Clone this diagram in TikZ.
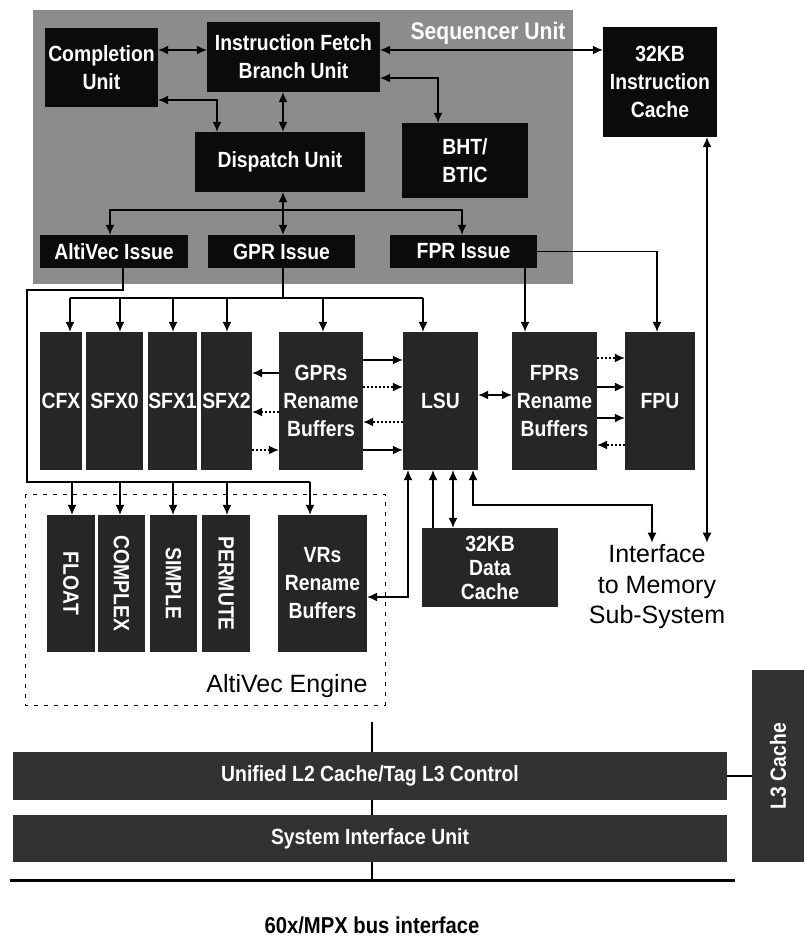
\documentclass[tikz,border=0pt]{standalone}
\usepackage{fontspec}
\setmainfont{Liberation Sans}
\newfontfamily\condfont[FakeStretch=0.88]{Liberation Sans}
\usepackage{graphicx}
\usepackage{tikz}
\usetikzlibrary{arrows.meta,positioning}
\definecolor{ppcSeq}{HTML}{8C8C8C}
\definecolor{ppcBlack}{HTML}{0B0B0B}
\definecolor{ppcUnit}{HTML}{262626}
\definecolor{ppcBar}{HTML}{323232}

\begin{document}
\begin{tikzpicture}[x=1pt,y=-1pt,
  unitbox/.style={fill=ppcBlack, text=white, inner sep=0pt, align=center,
                  font=\condfont\bfseries\fontsize{22}{28}\selectfont},
  exbox/.style={unitbox, fill=ppcUnit, minimum height=138pt},
  vecbox/.style={unitbox, fill=ppcUnit, minimum height=137pt},
  barbox/.style={unitbox, fill=ppcBar, minimum width=714pt},
  plain/.style={font=\fontsize{25}{30.5}\selectfont, align=center, inner sep=2pt},
  arr/.style={line width=1.3pt, -{Latex[length=10pt,width=9pt]}},
  arrboth/.style={line width=1.3pt, {Latex[length=10pt,width=9pt]}-{Latex[length=10pt,width=9pt]}},
  wire/.style={line width=1.3pt},
  dots/.style={dash pattern=on 2pt off 2pt},
]
\useasboundingbox (0,0) rectangle (804,946);

% sequencer unit
\node[fill=ppcSeq, minimum width=540pt, minimum height=274pt, inner sep=0pt] (seq) at (303,147) {};
\node[text=white, font=\condfont\bfseries\fontsize{24}{26}\selectfont] (seqlbl) at (488,33) {Sequencer Unit};
\node[unitbox, minimum width=113pt, minimum height=79pt] (comp) at (101.5,67.5) {Completion\\Unit};
\node[unitbox, minimum width=173pt, minimum height=70pt] (ifetch) at (293.5,57) {Instruction Fetch\\Branch Unit};
\node[unitbox, minimum width=170pt, minimum height=60pt] (disp) at (280,162) {Dispatch Unit};
\node[unitbox, minimum width=126pt, minimum height=75pt] (bht) at (465,160.5) {BHT/\\BTIC};
\node[unitbox, minimum width=148pt, minimum height=33pt] (avissue) at (114,251.5) {AltiVec Issue};
\node[unitbox, minimum width=147pt, minimum height=33pt] (gprissue) at (281.5,251.5) {GPR Issue};
\node[unitbox, minimum width=147pt, minimum height=33pt] (fprissue) at (463.5,251.5) {FPR Issue};
\node[unitbox, minimum width=114pt, minimum height=110pt] (icache) at (660,82) {32KB\\Instruction\\Cache};

% execution units
\node[exbox, minimum width=42pt] (cfx) at (61,401) {CFX};
\node[exbox, minimum width=57pt] (sfx0) at (114.5,401) {SFX0};
\node[exbox, minimum width=49pt] (sfx1) at (172.5,401) {SFX1};
\node[exbox, minimum width=51pt] (sfx2) at (226.5,401) {SFX2};
\node[exbox, minimum width=84pt] (gprs) at (321,401) {GPRs\\Rename\\Buffers};
\node[exbox, minimum width=75pt] (lsu) at (440.5,401) {LSU};
\node[exbox, minimum width=85pt] (fprs) at (554.5,401) {FPRs\\Rename\\Buffers};
\node[exbox, minimum width=70pt] (fpu) at (660,401) {FPU};

% altivec engine
\draw[line width=1pt, dash pattern=on 4pt off 6pt] (25,494) rectangle (385,705);
\node[vecbox, minimum width=48pt] (float) at (71,583.5) {\rotatebox{-90}{FLOAT}};
\node[vecbox, minimum width=47pt] (complex) at (121.5,583.5) {\rotatebox{-90}{COMPLEX}};
\node[vecbox, minimum width=47pt] (simple) at (173.5,583.5) {\rotatebox{-90}{SIMPLE}};
\node[vecbox, minimum width=48pt] (permute) at (226,583.5) {\rotatebox{-90}{PERMUTE}};
\node[vecbox, minimum width=89pt] (vrs) at (322.5,583.5) {VRs\\Rename\\Buffers};
\node[plain] (engine) at (287,686) {AltiVec Engine};

\node[unitbox, fill=ppcUnit, minimum width=136pt, minimum height=79pt,
      font=\condfont\bfseries\fontsize{22}{24}\selectfont] (dcache) at (490,567.5) {32KB\\Data\\Cache};
\node[plain] (mem) at (657,587) {Interface\\to Memory\\Sub-System};

% l2, siu, bus
\node[barbox, minimum height=48pt] (l2) at (370,776) {Unified L2 Cache/Tag L3 Control};
\node[barbox, minimum height=47pt] (siu) at (370,838.5) {System Interface Unit};
\node[unitbox, fill=ppcBar, minimum width=52pt, minimum height=192pt] (l3) at (778,766) {\rotatebox{90}{L3 Cache}};
\coordinate (busL) at (10,880);
\coordinate (busR) at (735,880);
\coordinate (tick) at (372,722);
\node[font=\condfont\bfseries\fontsize{23}{26}\selectfont] (bus) at (372,925) {60x/MPX bus interface};

% sequencer connections
\draw[arrboth] (comp.east |- 0,50) -- (ifetch.west |- 0,50);
\draw[arrboth] (comp.east |- 0,100) -| (217,0 |- disp.north);
\draw[arrboth] (283,0 |- ifetch.south) -- (283,0 |- disp.north);
\draw[arrboth] (ifetch.east |- 0,50) -- (icache.west |- 0,50);
\draw[arrboth] (ifetch.east |- 0,78) -| (438,0 |- bht.north);
\coordinate (dbus) at (283,210);
\draw[arr] (dbus) -- (283,0 |- disp.south);
\draw[arr] (dbus) -| (110,0 |- avissue.north);
\draw[arr] (dbus) -- (283,0 |- gprissue.north);
\draw[arr] (dbus) -| (462,0 |- fprissue.north);

% issue to units
\draw[wire] (123,0 |- avissue.south) |- (27,290) |- (310,482);
\foreach \u/\x in {float/72,complex/120,simple/173,permute/227,vrs/310}
  \draw[arr] (\x,482) -- (\x,0 |- \u.north);
\draw[wire] (283,0 |- gprissue.south) -- (283,298);
\draw[wire] (70,298) -- (423,298);
\foreach \u/\x in {cfx/70,sfx0/120,sfx1/173,sfx2/227,gprs/323,lsu/423}
  \draw[arr] (\x,298) -- (\x,0 |- \u.north);
\draw[arr] (525,0 |- fprissue.south) -- (525,0 |- fprs.north);
\draw[arr] (fprissue.east) -| (657,0 |- fpu.north);

% register files
\draw[arr] (gprs.west |- 0,373) -- (sfx2.east |- 0,373);
\draw[arr,dots] (gprs.west |- 0,412) -- (sfx2.east |- 0,412);
\draw[arr,dots] (sfx2.east |- 0,450) -- (gprs.west |- 0,450);
\draw[arr] (gprs.east |- 0,360) -- (lsu.west |- 0,360);
\draw[arr,dots] (gprs.east |- 0,387) -- (lsu.west |- 0,387);
\draw[arr,dots] (lsu.west |- 0,422) -- (gprs.east |- 0,422);
\draw[arr] (gprs.east |- 0,450) -- (lsu.west |- 0,450);
\draw[arrboth] (lsu.east |- 0,395) -- (fprs.west |- 0,395);
\draw[arr,dots] (fprs.east |- 0,358) -- (fpu.west |- 0,358);
\draw[arr] (fprs.east |- 0,387) -- (fpu.west |- 0,387);
\draw[arr] (fprs.east |- 0,418) -- (fpu.west |- 0,418);
\draw[arr,dots] (fpu.west |- 0,445) -- (fprs.east |- 0,445);

% lsu and memory
\draw[arrboth] (vrs.east |- 0,597) -| (408,0 |- lsu.south);
\draw[arr] (433,0 |- dcache.north) -- (433,0 |- lsu.south);
\draw[arrboth] (453,0 |- dcache.north) -- (453,0 |- lsu.south);
\draw[arrboth] (473,0 |- lsu.south) |- (652,505) -- (652,0 |- mem.north);
\draw[arrboth] (707,0 |- icache.south) -- (707,0 |- mem.north);

% bus side
\draw[wire] (tick) -- (372,0 |- l2.north);
\draw[wire] (372,0 |- l2.south) -- (372,0 |- siu.north);
\draw[wire] (372,0 |- siu.south) -- (372,0 |- busL);
\draw[line width=3pt] (busL) -- (busR);
\draw[wire] (l2.east) -- (l3.west |- l2.east);
\end{tikzpicture}
\end{document}
